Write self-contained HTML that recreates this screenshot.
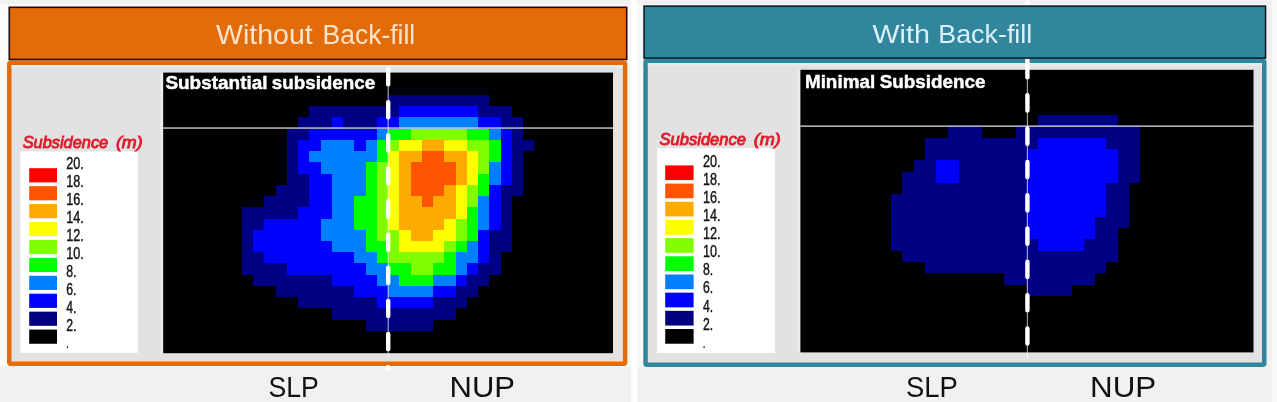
<!DOCTYPE html>
<html><head><meta charset="utf-8"><title>Subsidence comparison</title>
<style>
html,body{margin:0;padding:0;background:#F1F1F1;}
body{width:1277px;height:402px;overflow:hidden;font-family:"Liberation Sans",sans-serif;}
svg{display:block;will-change:transform;}
</style></head><body>
<svg width="1277" height="402" viewBox="0 0 1277 402" font-family="'Liberation Sans', sans-serif">
<defs><filter id="bl" x="-2%" y="-2%" width="104%" height="104%"><feGaussianBlur stdDeviation="0.65"/></filter></defs>
<rect x="0" y="0" width="1277" height="402" fill="#F1F1F1"/>
<rect x="0" y="4.5" width="8" height="362" fill="#FBFCFD"/>
<rect x="0" y="4.5" width="1277" height="3" fill="#FAFAFA"/>
<rect x="627" y="4.5" width="17" height="362" fill="#F7F7F7"/>
<rect x="631" y="0" width="6.4" height="402" fill="#FEFEFE"/>
<rect x="1272" y="0" width="5" height="402" fill="#FAFAFA"/>
<rect x="9.25" y="62.75" width="615.9" height="301" rx="1.5" fill="#E2E2E2" stroke="#E36C0A" stroke-width="4.5"/>
<rect x="645.55" y="60.75" width="618.7" height="304" rx="1.5" fill="#E2E2E2" stroke="#31859C" stroke-width="4.5"/>
<rect x="11.5" y="65" width="611.4" height="2.6" fill="#E9EAEB"/>
<rect x="647.8" y="63.3" width="614.2" height="2.6" fill="#E9EAEB"/>
<rect x="160.4" y="72.6" width="3" height="280.6" fill="#ECECEC"/>
<rect x="797.6" y="69.8" width="3" height="282.6" fill="#ECECEC"/>
<rect x="20.4" y="151.4" width="117.50" height="201.40" fill="#fff"/>
<rect x="29.2" y="168.20" width="27.8" height="14.2" fill="#FF0000"/>
<rect x="29.2" y="186.13" width="27.8" height="14.2" fill="#FF5500"/>
<rect x="29.2" y="204.06" width="27.8" height="14.2" fill="#FFAA00"/>
<rect x="29.2" y="221.99" width="27.8" height="14.2" fill="#FFFF00"/>
<rect x="29.2" y="239.92" width="27.8" height="14.2" fill="#80FF00"/>
<rect x="29.2" y="257.85" width="27.8" height="14.2" fill="#00FF00"/>
<rect x="29.2" y="275.78" width="27.8" height="14.2" fill="#0080FF"/>
<rect x="29.2" y="293.71" width="27.8" height="14.2" fill="#0000FF"/>
<rect x="29.2" y="311.64" width="27.8" height="14.2" fill="#000084"/>
<rect x="29.2" y="329.57" width="27.8" height="14.2" fill="#000000"/>
<text transform="translate(66.30,169.40) scale(0.8117,1)" font-size="15.6" font-weight="normal" font-style="normal" fill="#151515" stroke="#151515" stroke-width="0.4">20.</text>
<text transform="translate(66.30,187.30) scale(0.8117,1)" font-size="15.6" font-weight="normal" font-style="normal" fill="#151515" stroke="#151515" stroke-width="0.4">18.</text>
<text transform="translate(66.30,205.20) scale(0.8117,1)" font-size="15.6" font-weight="normal" font-style="normal" fill="#151515" stroke="#151515" stroke-width="0.4">16.</text>
<text transform="translate(66.30,223.10) scale(0.8117,1)" font-size="15.6" font-weight="normal" font-style="normal" fill="#151515" stroke="#151515" stroke-width="0.4">14.</text>
<text transform="translate(66.30,241.00) scale(0.8117,1)" font-size="15.6" font-weight="normal" font-style="normal" fill="#151515" stroke="#151515" stroke-width="0.4">12.</text>
<text transform="translate(66.30,258.90) scale(0.8117,1)" font-size="15.6" font-weight="normal" font-style="normal" fill="#151515" stroke="#151515" stroke-width="0.4">10.</text>
<text transform="translate(66.30,276.80) scale(0.7840,1)" font-size="15.6" font-weight="normal" font-style="normal" fill="#151515" stroke="#151515" stroke-width="0.4">8.</text>
<text transform="translate(66.30,294.70) scale(0.7840,1)" font-size="15.6" font-weight="normal" font-style="normal" fill="#151515" stroke="#151515" stroke-width="0.4">6.</text>
<text transform="translate(66.30,312.60) scale(0.7840,1)" font-size="15.6" font-weight="normal" font-style="normal" fill="#151515" stroke="#151515" stroke-width="0.4">4.</text>
<text transform="translate(66.30,330.50) scale(0.7840,1)" font-size="15.6" font-weight="normal" font-style="normal" fill="#151515" stroke="#151515" stroke-width="0.4">2.</text>
<text transform="translate(66.30,348.40) scale(0.5073,1)" font-size="15.6" font-weight="normal" font-style="normal" fill="#151515" stroke="#151515" stroke-width="0.4">.</text>
<text transform="translate(22.70,147.80) scale(0.9624,1)" font-size="17" font-weight="normal" font-style="italic" fill="#E21B2A" stroke="#E21B2A" stroke-width="0.9">Subsidence</text>
<text transform="translate(115.90,147.80) scale(1.0517,1)" font-size="17" font-weight="normal" font-style="italic" fill="#E21B2A" stroke="#E21B2A" stroke-width="0.9">(m)</text>
<rect x="657" y="148.2" width="118.00" height="204.70" fill="#fff"/>
<rect x="665.2" y="165.40" width="28.4" height="14.7" fill="#FF0000"/>
<rect x="665.2" y="183.58" width="28.4" height="14.7" fill="#FF5500"/>
<rect x="665.2" y="201.76" width="28.4" height="14.7" fill="#FFAA00"/>
<rect x="665.2" y="219.94" width="28.4" height="14.7" fill="#FFFF00"/>
<rect x="665.2" y="238.12" width="28.4" height="14.7" fill="#80FF00"/>
<rect x="665.2" y="256.30" width="28.4" height="14.7" fill="#00FF00"/>
<rect x="665.2" y="274.48" width="28.4" height="14.7" fill="#0080FF"/>
<rect x="665.2" y="292.66" width="28.4" height="14.7" fill="#0000FF"/>
<rect x="665.2" y="310.84" width="28.4" height="14.7" fill="#000084"/>
<rect x="665.2" y="329.02" width="28.4" height="14.7" fill="#000000"/>
<text transform="translate(702.90,166.50) scale(0.8117,1)" font-size="15.6" font-weight="normal" font-style="normal" fill="#151515" stroke="#151515" stroke-width="0.4">20.</text>
<text transform="translate(702.90,184.63) scale(0.8117,1)" font-size="15.6" font-weight="normal" font-style="normal" fill="#151515" stroke="#151515" stroke-width="0.4">18.</text>
<text transform="translate(702.90,202.76) scale(0.8117,1)" font-size="15.6" font-weight="normal" font-style="normal" fill="#151515" stroke="#151515" stroke-width="0.4">16.</text>
<text transform="translate(702.90,220.89) scale(0.8117,1)" font-size="15.6" font-weight="normal" font-style="normal" fill="#151515" stroke="#151515" stroke-width="0.4">14.</text>
<text transform="translate(702.90,239.02) scale(0.8117,1)" font-size="15.6" font-weight="normal" font-style="normal" fill="#151515" stroke="#151515" stroke-width="0.4">12.</text>
<text transform="translate(702.90,257.15) scale(0.8117,1)" font-size="15.6" font-weight="normal" font-style="normal" fill="#151515" stroke="#151515" stroke-width="0.4">10.</text>
<text transform="translate(702.90,275.28) scale(0.7840,1)" font-size="15.6" font-weight="normal" font-style="normal" fill="#151515" stroke="#151515" stroke-width="0.4">8.</text>
<text transform="translate(702.90,293.41) scale(0.7840,1)" font-size="15.6" font-weight="normal" font-style="normal" fill="#151515" stroke="#151515" stroke-width="0.4">6.</text>
<text transform="translate(702.90,311.54) scale(0.7840,1)" font-size="15.6" font-weight="normal" font-style="normal" fill="#151515" stroke="#151515" stroke-width="0.4">4.</text>
<text transform="translate(702.90,329.67) scale(0.7840,1)" font-size="15.6" font-weight="normal" font-style="normal" fill="#151515" stroke="#151515" stroke-width="0.4">2.</text>
<text transform="translate(702.90,347.80) scale(0.5073,1)" font-size="15.6" font-weight="normal" font-style="normal" fill="#151515" stroke="#151515" stroke-width="0.4">.</text>
<text transform="translate(659.60,144.70) scale(0.9720,1)" font-size="17" font-weight="normal" font-style="italic" fill="#E21B2A" stroke="#E21B2A" stroke-width="0.9">Subsidence</text>
<text transform="translate(753.73,144.70) scale(1.0622,1)" font-size="17" font-weight="normal" font-style="italic" fill="#E21B2A" stroke="#E21B2A" stroke-width="0.9">(m)</text>
<g filter="url(#bl)"><rect x="163.2" y="72.6" width="449.80" height="280.60" fill="#000"/>
<rect x="388" y="95" width="101" height="11" fill="#000084"/>
<rect x="309" y="106" width="90" height="11" fill="#000084"/>
<rect x="399" y="106" width="79" height="11" fill="#0000FF"/>
<rect x="478" y="106" width="34" height="11" fill="#000084"/>
<rect x="298" y="117" width="34" height="12" fill="#000084"/>
<rect x="332" y="117" width="11" height="12" fill="#0000FF"/>
<rect x="343" y="117" width="34" height="12" fill="#000084"/>
<rect x="377" y="117" width="22" height="12" fill="#0000FF"/>
<rect x="399" y="117" width="79" height="12" fill="#0080FF"/>
<rect x="478" y="117" width="23" height="12" fill="#0000FF"/>
<rect x="501" y="117" width="22" height="12" fill="#000084"/>
<rect x="287" y="129" width="22" height="11" fill="#000084"/>
<rect x="309" y="129" width="68" height="11" fill="#0000FF"/>
<rect x="377" y="129" width="11" height="11" fill="#0080FF"/>
<rect x="388" y="129" width="23" height="11" fill="#00FF00"/>
<rect x="411" y="129" width="56" height="11" fill="#80FF00"/>
<rect x="467" y="129" width="22" height="11" fill="#00FF00"/>
<rect x="489" y="129" width="12" height="11" fill="#0080FF"/>
<rect x="501" y="129" width="11" height="11" fill="#0000FF"/>
<rect x="512" y="129" width="11" height="11" fill="#000084"/>
<rect x="287" y="140" width="11" height="11" fill="#000084"/>
<rect x="298" y="140" width="23" height="11" fill="#0000FF"/>
<rect x="321" y="140" width="33" height="11" fill="#0080FF"/>
<rect x="354" y="140" width="12" height="11" fill="#0000FF"/>
<rect x="366" y="140" width="11" height="11" fill="#0080FF"/>
<rect x="377" y="140" width="11" height="11" fill="#00FF00"/>
<rect x="388" y="140" width="11" height="11" fill="#80FF00"/>
<rect x="399" y="140" width="23" height="11" fill="#FFFF00"/>
<rect x="422" y="140" width="22" height="11" fill="#FFAA00"/>
<rect x="444" y="140" width="23" height="11" fill="#FFFF00"/>
<rect x="467" y="140" width="22" height="11" fill="#80FF00"/>
<rect x="489" y="140" width="12" height="11" fill="#00FF00"/>
<rect x="501" y="140" width="11" height="11" fill="#0000FF"/>
<rect x="512" y="140" width="22" height="11" fill="#000084"/>
<rect x="287" y="151" width="11" height="11" fill="#000084"/>
<rect x="298" y="151" width="11" height="11" fill="#0000FF"/>
<rect x="309" y="151" width="68" height="11" fill="#0080FF"/>
<rect x="377" y="151" width="11" height="11" fill="#00FF00"/>
<rect x="388" y="151" width="11" height="11" fill="#FFFF00"/>
<rect x="399" y="151" width="23" height="11" fill="#FFAA00"/>
<rect x="422" y="151" width="22" height="11" fill="#FF5500"/>
<rect x="444" y="151" width="23" height="11" fill="#FFAA00"/>
<rect x="467" y="151" width="11" height="11" fill="#FFFF00"/>
<rect x="478" y="151" width="11" height="11" fill="#80FF00"/>
<rect x="489" y="151" width="12" height="11" fill="#00FF00"/>
<rect x="501" y="151" width="11" height="11" fill="#0000FF"/>
<rect x="512" y="151" width="11" height="11" fill="#000084"/>
<rect x="287" y="162" width="11" height="12" fill="#000084"/>
<rect x="298" y="162" width="23" height="12" fill="#0000FF"/>
<rect x="321" y="162" width="45" height="12" fill="#0080FF"/>
<rect x="366" y="162" width="11" height="12" fill="#00FF00"/>
<rect x="377" y="162" width="11" height="12" fill="#80FF00"/>
<rect x="388" y="162" width="11" height="12" fill="#FFFF00"/>
<rect x="399" y="162" width="12" height="12" fill="#FFAA00"/>
<rect x="411" y="162" width="45" height="12" fill="#FF5500"/>
<rect x="456" y="162" width="11" height="12" fill="#FFAA00"/>
<rect x="467" y="162" width="11" height="12" fill="#FFFF00"/>
<rect x="478" y="162" width="11" height="12" fill="#80FF00"/>
<rect x="489" y="162" width="12" height="12" fill="#0080FF"/>
<rect x="501" y="162" width="11" height="12" fill="#0000FF"/>
<rect x="512" y="162" width="11" height="12" fill="#000084"/>
<rect x="287" y="174" width="22" height="11" fill="#000084"/>
<rect x="309" y="174" width="23" height="11" fill="#0000FF"/>
<rect x="332" y="174" width="34" height="11" fill="#0080FF"/>
<rect x="366" y="174" width="11" height="11" fill="#00FF00"/>
<rect x="377" y="174" width="11" height="11" fill="#80FF00"/>
<rect x="388" y="174" width="11" height="11" fill="#FFFF00"/>
<rect x="399" y="174" width="12" height="11" fill="#FFAA00"/>
<rect x="411" y="174" width="45" height="11" fill="#FF5500"/>
<rect x="456" y="174" width="11" height="11" fill="#FFAA00"/>
<rect x="467" y="174" width="11" height="11" fill="#FFFF00"/>
<rect x="478" y="174" width="11" height="11" fill="#00FF00"/>
<rect x="489" y="174" width="12" height="11" fill="#0080FF"/>
<rect x="501" y="174" width="11" height="11" fill="#0000FF"/>
<rect x="512" y="174" width="11" height="11" fill="#000084"/>
<rect x="276" y="185" width="33" height="11" fill="#000084"/>
<rect x="309" y="185" width="23" height="11" fill="#0000FF"/>
<rect x="332" y="185" width="34" height="11" fill="#0080FF"/>
<rect x="366" y="185" width="11" height="11" fill="#00FF00"/>
<rect x="377" y="185" width="11" height="11" fill="#80FF00"/>
<rect x="388" y="185" width="11" height="11" fill="#FFFF00"/>
<rect x="399" y="185" width="12" height="11" fill="#FFAA00"/>
<rect x="411" y="185" width="33" height="11" fill="#FF5500"/>
<rect x="444" y="185" width="12" height="11" fill="#FFAA00"/>
<rect x="456" y="185" width="11" height="11" fill="#FFFF00"/>
<rect x="467" y="185" width="11" height="11" fill="#80FF00"/>
<rect x="478" y="185" width="11" height="11" fill="#00FF00"/>
<rect x="489" y="185" width="12" height="11" fill="#0000FF"/>
<rect x="501" y="185" width="22" height="11" fill="#000084"/>
<rect x="264" y="196" width="45" height="11" fill="#000084"/>
<rect x="309" y="196" width="23" height="11" fill="#0000FF"/>
<rect x="332" y="196" width="22" height="11" fill="#0080FF"/>
<rect x="354" y="196" width="23" height="11" fill="#00FF00"/>
<rect x="377" y="196" width="11" height="11" fill="#80FF00"/>
<rect x="388" y="196" width="11" height="11" fill="#FFFF00"/>
<rect x="399" y="196" width="23" height="11" fill="#FFAA00"/>
<rect x="422" y="196" width="11" height="11" fill="#FF5500"/>
<rect x="433" y="196" width="23" height="11" fill="#FFAA00"/>
<rect x="456" y="196" width="11" height="11" fill="#FFFF00"/>
<rect x="467" y="196" width="11" height="11" fill="#80FF00"/>
<rect x="478" y="196" width="11" height="11" fill="#0080FF"/>
<rect x="489" y="196" width="12" height="11" fill="#0000FF"/>
<rect x="501" y="196" width="11" height="11" fill="#000084"/>
<rect x="242" y="207" width="56" height="12" fill="#000084"/>
<rect x="298" y="207" width="34" height="12" fill="#0000FF"/>
<rect x="332" y="207" width="22" height="12" fill="#0080FF"/>
<rect x="354" y="207" width="23" height="12" fill="#00FF00"/>
<rect x="377" y="207" width="11" height="12" fill="#80FF00"/>
<rect x="388" y="207" width="11" height="12" fill="#FFFF00"/>
<rect x="399" y="207" width="57" height="12" fill="#FFAA00"/>
<rect x="456" y="207" width="11" height="12" fill="#FFFF00"/>
<rect x="467" y="207" width="11" height="12" fill="#00FF00"/>
<rect x="478" y="207" width="11" height="12" fill="#0080FF"/>
<rect x="489" y="207" width="12" height="12" fill="#0000FF"/>
<rect x="501" y="207" width="11" height="12" fill="#000084"/>
<rect x="242" y="219" width="22" height="11" fill="#000084"/>
<rect x="264" y="219" width="57" height="11" fill="#0000FF"/>
<rect x="321" y="219" width="33" height="11" fill="#0080FF"/>
<rect x="354" y="219" width="23" height="11" fill="#00FF00"/>
<rect x="377" y="219" width="11" height="11" fill="#80FF00"/>
<rect x="388" y="219" width="11" height="11" fill="#FFFF00"/>
<rect x="399" y="219" width="45" height="11" fill="#FFAA00"/>
<rect x="444" y="219" width="12" height="11" fill="#FFFF00"/>
<rect x="456" y="219" width="11" height="11" fill="#80FF00"/>
<rect x="467" y="219" width="11" height="11" fill="#00FF00"/>
<rect x="478" y="219" width="11" height="11" fill="#0080FF"/>
<rect x="489" y="219" width="12" height="11" fill="#0000FF"/>
<rect x="501" y="219" width="11" height="11" fill="#000084"/>
<rect x="242" y="230" width="11" height="11" fill="#000084"/>
<rect x="253" y="230" width="68" height="11" fill="#0000FF"/>
<rect x="321" y="230" width="45" height="11" fill="#0080FF"/>
<rect x="366" y="230" width="11" height="11" fill="#00FF00"/>
<rect x="377" y="230" width="22" height="11" fill="#80FF00"/>
<rect x="399" y="230" width="12" height="11" fill="#FFFF00"/>
<rect x="411" y="230" width="22" height="11" fill="#FFAA00"/>
<rect x="433" y="230" width="23" height="11" fill="#FFFF00"/>
<rect x="456" y="230" width="11" height="11" fill="#80FF00"/>
<rect x="467" y="230" width="11" height="11" fill="#00FF00"/>
<rect x="478" y="230" width="11" height="11" fill="#0000FF"/>
<rect x="489" y="230" width="23" height="11" fill="#000084"/>
<rect x="242" y="241" width="11" height="11" fill="#000084"/>
<rect x="253" y="241" width="79" height="11" fill="#0000FF"/>
<rect x="332" y="241" width="34" height="11" fill="#0080FF"/>
<rect x="366" y="241" width="22" height="11" fill="#00FF00"/>
<rect x="388" y="241" width="11" height="11" fill="#80FF00"/>
<rect x="399" y="241" width="45" height="11" fill="#FFFF00"/>
<rect x="444" y="241" width="12" height="11" fill="#80FF00"/>
<rect x="456" y="241" width="11" height="11" fill="#00FF00"/>
<rect x="467" y="241" width="11" height="11" fill="#0080FF"/>
<rect x="478" y="241" width="11" height="11" fill="#0000FF"/>
<rect x="489" y="241" width="23" height="11" fill="#000084"/>
<rect x="242" y="252" width="22" height="11" fill="#000084"/>
<rect x="264" y="252" width="90" height="11" fill="#0000FF"/>
<rect x="354" y="252" width="23" height="11" fill="#0080FF"/>
<rect x="377" y="252" width="11" height="11" fill="#00FF00"/>
<rect x="388" y="252" width="56" height="11" fill="#80FF00"/>
<rect x="444" y="252" width="12" height="11" fill="#00FF00"/>
<rect x="456" y="252" width="22" height="11" fill="#0080FF"/>
<rect x="478" y="252" width="11" height="11" fill="#0000FF"/>
<rect x="489" y="252" width="12" height="11" fill="#000084"/>
<rect x="242" y="263" width="45" height="12" fill="#000084"/>
<rect x="287" y="263" width="79" height="12" fill="#0000FF"/>
<rect x="366" y="263" width="22" height="12" fill="#0080FF"/>
<rect x="388" y="263" width="23" height="12" fill="#00FF00"/>
<rect x="411" y="263" width="22" height="12" fill="#80FF00"/>
<rect x="433" y="263" width="23" height="12" fill="#00FF00"/>
<rect x="456" y="263" width="11" height="12" fill="#0080FF"/>
<rect x="467" y="263" width="11" height="12" fill="#0000FF"/>
<rect x="478" y="263" width="23" height="12" fill="#000084"/>
<rect x="253" y="275" width="79" height="11" fill="#000084"/>
<rect x="332" y="275" width="45" height="11" fill="#0000FF"/>
<rect x="377" y="275" width="22" height="11" fill="#0080FF"/>
<rect x="399" y="275" width="34" height="11" fill="#00FF00"/>
<rect x="433" y="275" width="23" height="11" fill="#0080FF"/>
<rect x="456" y="275" width="11" height="11" fill="#0000FF"/>
<rect x="467" y="275" width="22" height="11" fill="#000084"/>
<rect x="276" y="286" width="78" height="11" fill="#000084"/>
<rect x="354" y="286" width="34" height="11" fill="#0000FF"/>
<rect x="388" y="286" width="45" height="11" fill="#0080FF"/>
<rect x="433" y="286" width="23" height="11" fill="#0000FF"/>
<rect x="456" y="286" width="22" height="11" fill="#000084"/>
<rect x="298" y="297" width="79" height="11" fill="#000084"/>
<rect x="377" y="297" width="56" height="11" fill="#0000FF"/>
<rect x="433" y="297" width="34" height="11" fill="#000084"/>
<rect x="332" y="308" width="124" height="12" fill="#000084"/>
<rect x="366" y="320" width="67" height="11" fill="#000084"/></g>
<g filter="url(#bl)"><rect x="800.4" y="69.8" width="453.10" height="282.60" fill="#000"/>
<rect x="1038" y="115" width="80" height="11" fill="#000084"/>
<rect x="948" y="126" width="34" height="12" fill="#000084"/>
<rect x="1016" y="126" width="124" height="12" fill="#000084"/>
<rect x="925" y="138" width="113" height="11" fill="#000084"/>
<rect x="1038" y="138" width="68" height="11" fill="#0000FF"/>
<rect x="1106" y="138" width="34" height="11" fill="#000084"/>
<rect x="925" y="149" width="102" height="11" fill="#000084"/>
<rect x="1027" y="149" width="91" height="11" fill="#0000FF"/>
<rect x="1118" y="149" width="22" height="11" fill="#000084"/>
<rect x="914" y="160" width="22" height="12" fill="#000084"/>
<rect x="936" y="160" width="23" height="12" fill="#0000FF"/>
<rect x="959" y="160" width="68" height="12" fill="#000084"/>
<rect x="1027" y="160" width="91" height="12" fill="#0000FF"/>
<rect x="1118" y="160" width="22" height="12" fill="#000084"/>
<rect x="902" y="172" width="34" height="11" fill="#000084"/>
<rect x="936" y="172" width="23" height="11" fill="#0000FF"/>
<rect x="959" y="172" width="68" height="11" fill="#000084"/>
<rect x="1027" y="172" width="91" height="11" fill="#0000FF"/>
<rect x="1118" y="172" width="22" height="11" fill="#000084"/>
<rect x="902" y="183" width="125" height="11" fill="#000084"/>
<rect x="1027" y="183" width="79" height="11" fill="#0000FF"/>
<rect x="1106" y="183" width="23" height="11" fill="#000084"/>
<rect x="891" y="194" width="136" height="11" fill="#000084"/>
<rect x="1027" y="194" width="79" height="11" fill="#0000FF"/>
<rect x="1106" y="194" width="23" height="11" fill="#000084"/>
<rect x="891" y="205" width="136" height="12" fill="#000084"/>
<rect x="1027" y="205" width="79" height="12" fill="#0000FF"/>
<rect x="1106" y="205" width="23" height="12" fill="#000084"/>
<rect x="891" y="217" width="136" height="11" fill="#000084"/>
<rect x="1027" y="217" width="68" height="11" fill="#0000FF"/>
<rect x="1095" y="217" width="34" height="11" fill="#000084"/>
<rect x="891" y="228" width="136" height="11" fill="#000084"/>
<rect x="1027" y="228" width="68" height="11" fill="#0000FF"/>
<rect x="1095" y="228" width="23" height="11" fill="#000084"/>
<rect x="891" y="239" width="147" height="12" fill="#000084"/>
<rect x="1038" y="239" width="46" height="12" fill="#0000FF"/>
<rect x="1084" y="239" width="34" height="12" fill="#000084"/>
<rect x="902" y="251" width="216" height="11" fill="#000084"/>
<rect x="925" y="262" width="181" height="11" fill="#000084"/>
<rect x="1004" y="273" width="91" height="12" fill="#000084"/>
<rect x="1027" y="285" width="45" height="11" fill="#000084"/></g>
<rect x="163.2" y="127.4" width="449.8" height="1.3" fill="#DDDDDD"/>
<rect x="800.4" y="125.5" width="453.1" height="1.3" fill="#DDDDDD"/>
<text transform="translate(165.40,88.50) scale(1.0249,1)" font-size="18.5" font-weight="bold" font-style="normal" fill="#fff" stroke="#fff" stroke-width="0.45">Substantial</text>
<text transform="translate(271.70,88.50) scale(1.0178,1)" font-size="18.5" font-weight="bold" font-style="normal" fill="#fff" stroke="#fff" stroke-width="0.45">subsidence</text>
<text transform="translate(804.90,88.00) scale(1.0207,1)" font-size="18.5" font-weight="bold" font-style="normal" fill="#fff" stroke="#fff" stroke-width="0.45">Minimal</text>
<text transform="translate(879.70,88.00) scale(1.0198,1)" font-size="18.5" font-weight="bold" font-style="normal" fill="#fff" stroke="#fff" stroke-width="0.45">Subsidence</text>
<rect x="387.60" y="66" width="1.2" height="292.00" fill="#fff" fill-opacity="0.62"/>
<rect x="386.00" y="66.80" width="4.4" height="19.60" rx="2.20" fill="#fff"/>
<rect x="386.00" y="99.92" width="4.4" height="19.60" rx="2.20" fill="#fff"/>
<rect x="386.00" y="133.04" width="4.4" height="19.60" rx="2.20" fill="#fff"/>
<rect x="386.00" y="166.16" width="4.4" height="19.60" rx="2.20" fill="#fff"/>
<rect x="386.00" y="199.28" width="4.4" height="19.60" rx="2.20" fill="#fff"/>
<rect x="386.00" y="232.40" width="4.4" height="19.60" rx="2.20" fill="#fff"/>
<rect x="386.00" y="265.52" width="4.4" height="19.60" rx="2.20" fill="#fff"/>
<rect x="386.00" y="298.64" width="4.4" height="19.60" rx="2.20" fill="#fff"/>
<rect x="386.00" y="331.76" width="4.4" height="19.60" rx="2.20" fill="#fff"/>
<rect x="386.00" y="364.88" width="4.4" height="6.12" rx="2.20" fill="#fff"/>
<rect x="1026.80" y="0" width="1.2" height="358.00" fill="#fff" fill-opacity="0.62"/>
<rect x="1025.20" y="-6.80" width="4.4" height="19.60" rx="2.20" fill="#fff"/>
<rect x="1025.20" y="26.50" width="4.4" height="19.60" rx="2.20" fill="#fff"/>
<rect x="1025.20" y="54.80" width="4.4" height="24.60" rx="2.20" fill="#fff"/>
<rect x="1025.20" y="93.10" width="4.4" height="19.60" rx="2.20" fill="#fff"/>
<rect x="1025.20" y="126.40" width="4.4" height="19.60" rx="2.20" fill="#fff"/>
<rect x="1025.20" y="159.70" width="4.4" height="19.60" rx="2.20" fill="#fff"/>
<rect x="1025.20" y="193.00" width="4.4" height="19.60" rx="2.20" fill="#fff"/>
<rect x="1025.20" y="226.30" width="4.4" height="19.60" rx="2.20" fill="#fff"/>
<rect x="1025.20" y="259.60" width="4.4" height="19.60" rx="2.20" fill="#fff"/>
<rect x="1025.20" y="292.90" width="4.4" height="19.60" rx="2.20" fill="#fff"/>
<rect x="1025.20" y="326.20" width="4.4" height="19.60" rx="2.20" fill="#fff"/>
<rect x="9.3" y="7.3" width="617.4" height="52.2" fill="#E36C0A" stroke="#2a0800" stroke-width="1.6"/>
<rect x="644.05" y="6.1" width="621.5" height="52.0" fill="#31859C" stroke="#04141c" stroke-width="1.5"/>
<text transform="translate(216.00,44.10) scale(1.0576,1)" font-size="27" font-weight="normal" font-style="normal" fill="#FCE3CB" >Without</text>
<text transform="translate(322.60,44.10) scale(0.9796,1)" font-size="27" font-weight="normal" font-style="normal" fill="#FCE3CB" >Back-fill</text>
<text transform="translate(872.60,42.90) scale(1.0811,1)" font-size="26.5" font-weight="normal" font-style="normal" fill="#D9F1F7" >With</text>
<text transform="translate(938.30,42.90) scale(1.0132,1)" font-size="26.5" font-weight="normal" font-style="normal" fill="#D9F1F7" >Back-fill</text>
<text transform="translate(268.40,397.10) scale(0.8991,1)" font-size="29.6" font-weight="normal" font-style="normal" fill="#111" >SLP</text>
<text transform="translate(449.50,397.10) scale(1.0482,1)" font-size="29.6" font-weight="normal" font-style="normal" fill="#111" >NUP</text>
<text transform="translate(905.90,396.50) scale(0.9259,1)" font-size="29.6" font-weight="normal" font-style="normal" fill="#111" >SLP</text>
<text transform="translate(1090.00,396.50) scale(1.0594,1)" font-size="29.6" font-weight="normal" font-style="normal" fill="#111" >NUP</text>
</svg>
</body></html>
